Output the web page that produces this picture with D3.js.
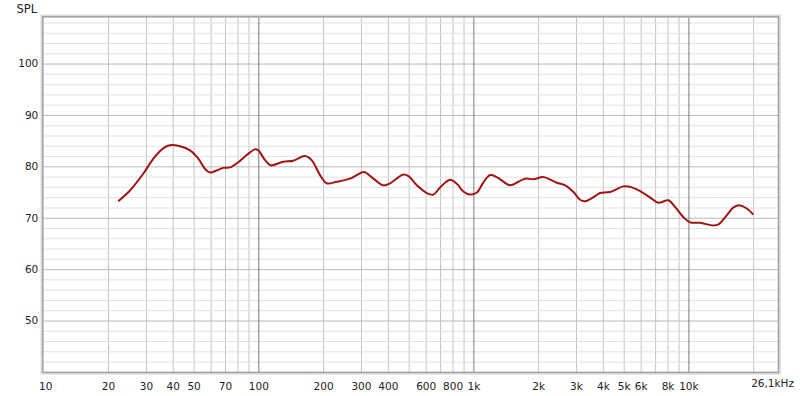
<!DOCTYPE html>
<html><head><meta charset="utf-8">
<script src="https://cdn.jsdelivr.net/npm/d3@7"></script>
<style>
html,body{margin:0;padding:0;background:#fff;}
svg{display:block;font-family:"DejaVu Sans",sans-serif;}
</style></head>
<body>
<svg id="c" width="800" height="396"></svg>
<script>
// Data
const freqs = [22.3,25.3,29.2,32.5,36.1,38.8,43.2,48.1,52.6,56.5,59.6,64,68.7,73.9,80.7,88.3,96.5,100,107.5,114,130.7,145.4,164.9,177,193.6,208,231.6,267,287,310,343,381,410,472,499,546,607,652,700,779,838,898,966,1038,1114,1197,1285,1483,1620,1739,1901,2118,2444,2673,2920,3134,3309,3683,3883,4324,4989,5459,6073,6640,7251,8069,8665,9480,10190,11330,13060,13800,15100,16200,17390,18690,20050];
const spl   = [73.2,75.3,78.6,81.5,83.5,84.1,83.9,83.1,81.5,79.5,78.8,79.2,79.7,79.8,80.8,82.2,83.3,83.1,81.2,80.2,80.9,81.1,82.0,81.2,78.3,76.7,77.0,77.6,78.3,78.9,77.6,76.3,76.7,78.4,78.1,76.3,74.8,74.5,75.9,77.4,76.6,75.1,74.5,74.9,76.9,78.3,77.9,76.3,77.0,77.6,77.5,77.9,76.8,76.3,75.0,73.5,73.2,74.2,74.8,75.0,76.1,75.9,75.0,73.9,72.9,73.4,72.1,70.1,69.1,69.0,68.5,68.7,70.5,72.0,72.4,71.8,70.6];
const xTickLabels = [[10,"10"],[20,"20"],[30,"30"],[40,"40"],[50,"50"],[70,"70"],[100,"100"],[200,"200"],[300,"300"],[400,"400"],[600,"600"],[800,"800"],[1000,"1k"],[2000,"2k"],[3000,"3k"],[4000,"4k"],[5000,"5k"],[6000,"6k"],[8000,"8k"],[10000,"10k"]];
const yTickLabels = [50,60,70,80,90,100];
const xDomain = [10, 26100];
const yDomain = [40, 109];

const svg = d3.select("#c");
const L = 43.3, R = 778, T = 17.3, B = 371.9;
const x = d3.scaleLog().domain(xDomain).range([L, R]);
const y = d3.scaleLinear().domain(yDomain).range([B, T]);

// gridlines
const vMinor = [], vMajor = [];
for (let d = 10; d <= 10000; d *= 10) {
  for (let k = 1; k <= 9; k++) {
    const v = d * k;
    if (v <= xDomain[0] || v >= xDomain[1]) continue;
    (k === 1 ? vMajor : vMinor).push(v);
  }
}
const hMinor = d3.range(42, 109, 2).filter(v => v % 10 !== 0);
const hMajor = d3.range(50, 109, 10);

const g = svg.append("g");
g.append("g").attr("transform", `translate(0,${B})`)
  .call(d3.axisBottom(x).tickValues(vMinor).tickSize(-(B - T)).tickFormat(""))
  .call(a => { a.select(".domain").remove(); a.selectAll("line").attr("stroke", "#c4c4c4"); });
g.append("g").attr("transform", `translate(${L},0)`)
  .call(d3.axisLeft(y).tickValues(hMinor).tickSize(-(R - L)).tickFormat(""))
  .call(a => { a.select(".domain").remove(); a.selectAll("line").attr("stroke", "#e2e2e2"); });
g.append("g").attr("transform", `translate(${L},0)`)
  .call(d3.axisLeft(y).tickValues(hMajor).tickSize(-(R - L)).tickFormat(""))
  .call(a => { a.select(".domain").remove(); a.selectAll("line").attr("stroke", "#b8b8b8"); });
g.append("g").attr("transform", `translate(0,${B})`)
  .call(d3.axisBottom(x).tickValues(vMajor).tickSize(-(B - T)).tickFormat(""))
  .call(a => { a.select(".domain").remove(); a.selectAll("line").attr("stroke", "#7a7a7a"); });

// frame
svg.append("rect").attr("x", L - 2).attr("y", T - 2).attr("width", R - L + 4).attr("height", B - T + 4)
  .attr("fill", "none").attr("stroke", "#dadada").attr("stroke-width", 1.5);
svg.append("rect").attr("x", L - 0.5).attr("y", T - 0.5).attr("width", R - L + 1).attr("height", B - T + 1)
  .attr("fill", "none").attr("stroke", "#a4a4a4").attr("stroke-width", 1.6);

// axes labels
const xa = svg.append("g").attr("transform", `translate(0,${B})`)
  .call(d3.axisBottom(x).tickValues(xTickLabels.map(d => d[0])).tickSize(0).tickPadding(11)
    .tickFormat(v => xTickLabels.find(d => d[0] === v)[1]));
xa.select(".domain").remove();
xa.selectAll("text").attr("font-size", "10.5px").attr("fill", "#222").attr("font-family", "DejaVu Sans");
xa.selectAll(".tick").filter(d => d === 10).select("text").attr("dx", "2");

svg.append("text").attr("x", 794).attr("y", B + 15.5).attr("text-anchor", "end")
  .attr("font-size", "10.5px").attr("fill", "#222").text("26,1kHz");

const ya = svg.append("g").attr("transform", `translate(${L},0)`)
  .call(d3.axisLeft(y).tickValues(yTickLabels).tickSize(0).tickPadding(5));
ya.select(".domain").remove();
ya.selectAll("text").attr("font-size", "10.5px").attr("fill", "#222").attr("font-family", "DejaVu Sans");

svg.append("text").attr("x", 16.5).attr("y", 12.5).attr("font-size", "11.5px").attr("fill", "#222").text("SPL");

// curve
const line = d3.line().x((d, i) => x(freqs[i])).y((d, i) => y(spl[i])).curve(d3.curveCatmullRom.alpha(0.5));
svg.append("path").datum(spl).attr("d", line).attr("fill", "none")
  .attr("stroke", "#a01414").attr("stroke-width", 2).attr("stroke-linejoin", "round");
</script>
</body></html>
